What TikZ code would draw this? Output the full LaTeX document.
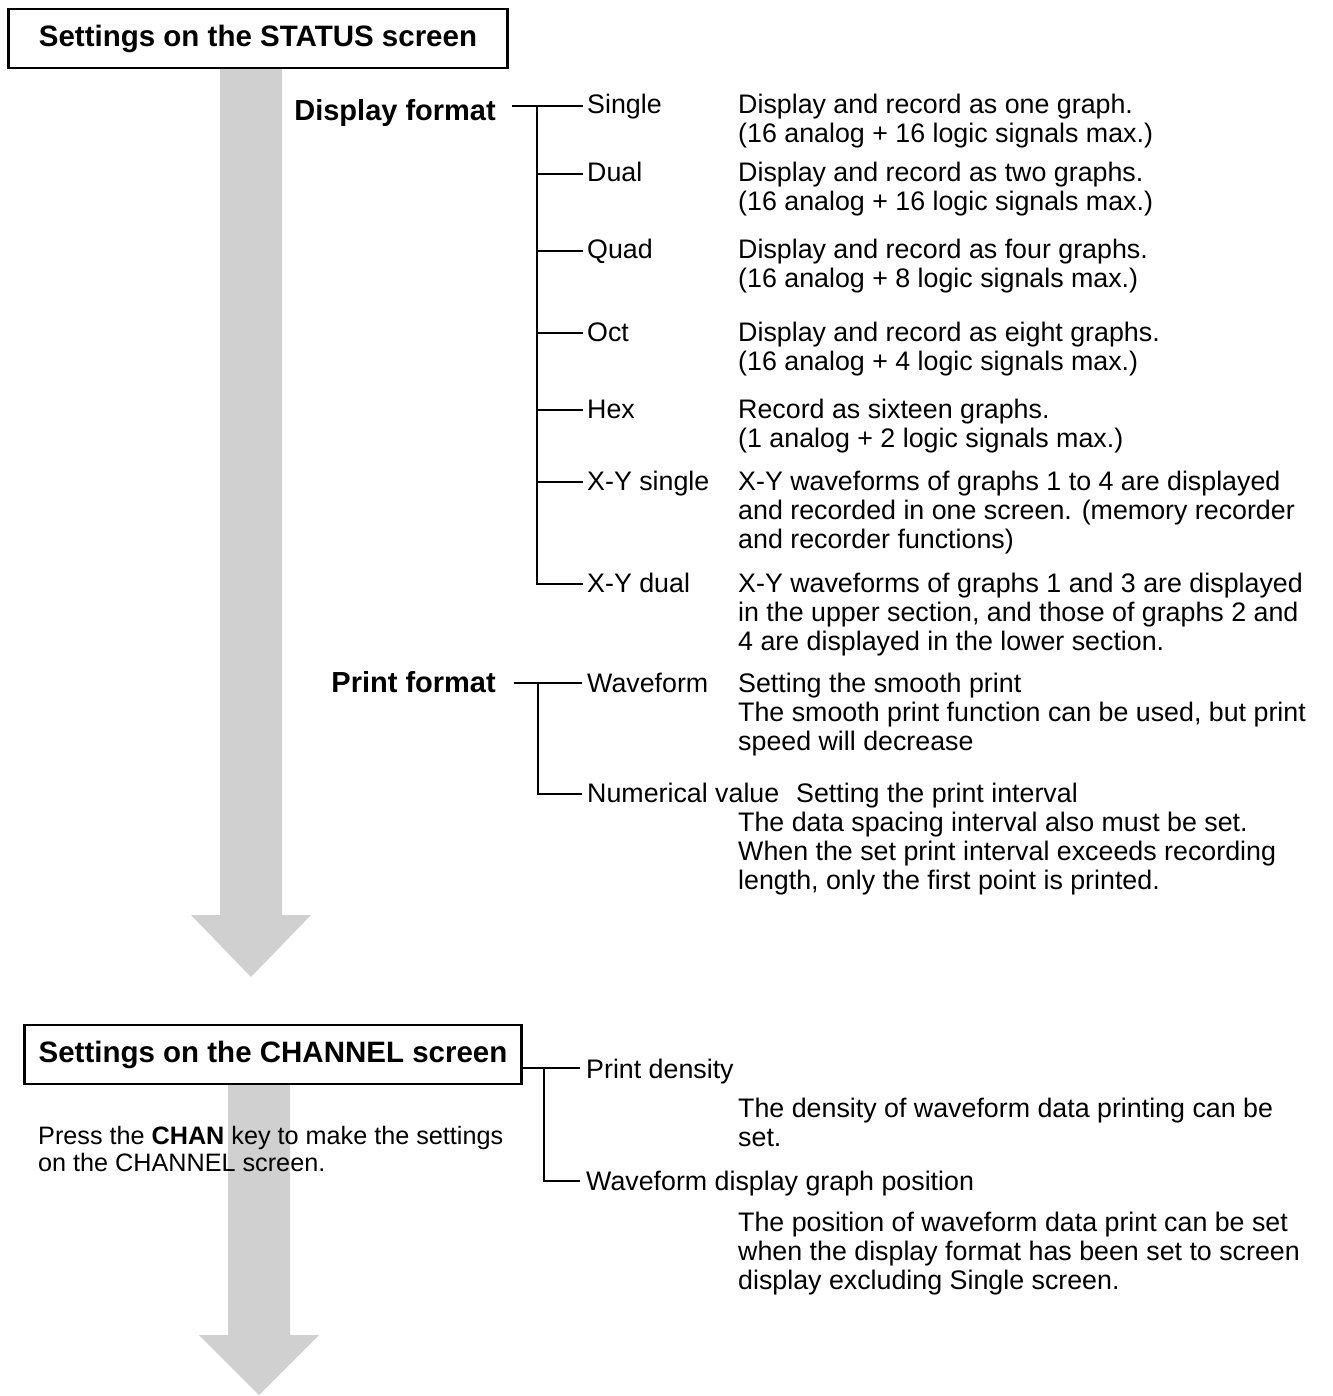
\documentclass[tikz,border=0pt]{standalone}
\usepackage{fontspec}
\setmainfont{Liberation Sans}
\definecolor{arrowgray}{RGB}{208,208,208}
\newcommand\dlines[1]{\begin{tabular}[t]{@{}l@{}}#1\end{tabular}}
\begin{document}
\begin{tikzpicture}[x=1pt,y=-1pt,
  bigarrow/.style={fill=arrowgray,draw=none},
  titlebox/.style={draw,line width=2.6pt,fill=white,inner sep=0pt,minimum height=59pt,font=\fontsize{29.5}{34}\selectfont\bfseries},
  heading/.style={anchor=base east,inner sep=0pt,font=\fontsize{29}{34}\selectfont\bfseries},
  lab/.style={anchor=base west,inner sep=0pt,font=\fontsize{26.8}{29}\selectfont},
  small/.style={anchor=base west,inner sep=0pt,font=\fontsize{25.2}{27}\selectfont},
  tree/.style={line width=1.8pt,line cap=rect}]
\useasboundingbox (0,0) rectangle (1332,1396);
\fill[white] (0,0) rectangle (1332,1396);

% big gray arrows
\fill[bigarrow] (220,60) -- (282,60) -- (282,915) -- (311,915) -- (251,977) -- (191,915) -- (220,915) -- cycle;
\fill[bigarrow] (228,1080) -- (290,1080) -- (290,1335) -- (319,1335) -- (259,1395) -- (199,1335) -- (228,1335) -- cycle;

% title boxes
\node[titlebox,minimum width=499pt] (status) at (258,38.5) {Settings on the STATUS screen};
\node[titlebox,minimum width=497pt] (channel) at (273,1054.5) {Settings on the CHANNEL screen};

% headings
\node[heading] (dfmt) at (496,121) {Display format};
\node[heading] (pfmt) at (496,692) {Print format};

% display format items
\node[lab] (single) at (587,114) {Single};
\node[lab] (dual) at (587,182) {Dual};
\node[lab] (quad) at (587,259) {Quad};
\node[lab] (oct) at (587,341) {Oct};
\node[lab] (hex) at (587,418) {Hex};
\node[lab] (xys) at (587,490) {X-Y single};
\node[lab] (xyd) at (587,592) {X-Y dual};

\node[lab] (dsingle) at (738,114) {\dlines{Display and record as one graph.\\(16 analog + 16 logic signals max.)}};
\node[lab] (ddual) at (738,182) {\dlines{Display and record as two graphs.\\(16 analog + 16 logic signals max.)}};
\node[lab] (dquad) at (738,259) {\dlines{Display and record as four graphs.\\(16 analog + 8 logic signals max.)}};
\node[lab] (doct) at (738,341) {\dlines{Display and record as eight graphs.\\(16 analog + 4 logic signals max.)}};
\node[lab] (dhex) at (738,418) {\dlines{Record as sixteen graphs.\\(1 analog + 2 logic signals max.)}};
\node[lab] (dxys) at (738,490) {\dlines{X-Y waveforms of graphs 1 to 4 are displayed\\and recorded in one screen. (memory recorder\\and recorder functions)}};
\node[lab] (dxyd) at (738,592) {\dlines{X-Y waveforms of graphs 1 and 3 are displayed\\in the upper section, and those of graphs 2 and\\4 are displayed in the lower section.}};

% print format items
\node[lab] (wave) at (587,692) {Waveform};
\node[lab] (num) at (587,802) {Numerical value};
\node[lab] (dwave) at (738,692) {\dlines{Setting the smooth print\\The smooth print function can be used, but print\\speed will decrease}};
\node[lab] (dnum1) at (796,802) {Setting the print interval};
\node[lab] (dnum2) at (738,831) {\dlines{The data spacing interval also must be set.\\When the set print interval exceeds recording\\length, only the first point is printed.}};

% channel items
\node[lab] (dens) at (586,1078) {Print density};
\node[lab] (ddens) at (738,1117) {\dlines{The density of waveform data printing can be\\set.}};
\node[lab] (gpos) at (586,1190) {Waveform display graph position};
\node[lab] (dgpos) at (738,1231) {\dlines{The position of waveform data print can be set\\when the display format has been set to screen\\display excluding Single screen.}};

\node[small] (press) at (38,1144) {\dlines{Press the \textbf{CHAN} key to make the settings\\on the CHANNEL screen.}};

% tree connectors: display format
\coordinate (dA) at (513,106);
\coordinate (dT) at (537,106);
\coordinate (iSingle) at (582,106);
\coordinate (iDual) at (582,174);
\coordinate (iQuad) at (582,251);
\coordinate (iOct) at (582,333);
\coordinate (iHex) at (582,410);
\coordinate (iXys) at (582,482);
\coordinate (iXyd) at (582,584);
\draw[tree] (dA) -- (iSingle);
\draw[tree] (dT) |- (iXyd);
\draw[tree] (iDual -| dT) -- (iDual);
\draw[tree] (iQuad -| dT) -- (iQuad);
\draw[tree] (iOct -| dT) -- (iOct);
\draw[tree] (iHex -| dT) -- (iHex);
\draw[tree] (iXys -| dT) -- (iXys);

% print format
\coordinate (pA) at (515,683);
\coordinate (pT) at (538,683);
\coordinate (iWave) at (581,683);
\coordinate (iNum) at (581,794);
\draw[tree] (pA) -- (iWave);
\draw[tree] (pT) |- (iNum);

% channel
\coordinate (cT) at (544,1068);
\coordinate (iDens) at (579,1068);
\coordinate (iGpos) at (579,1181);
\draw[tree] (channel.east |- cT) -- (iDens);
\draw[tree] (cT) |- (iGpos);
\end{tikzpicture}
\end{document}
